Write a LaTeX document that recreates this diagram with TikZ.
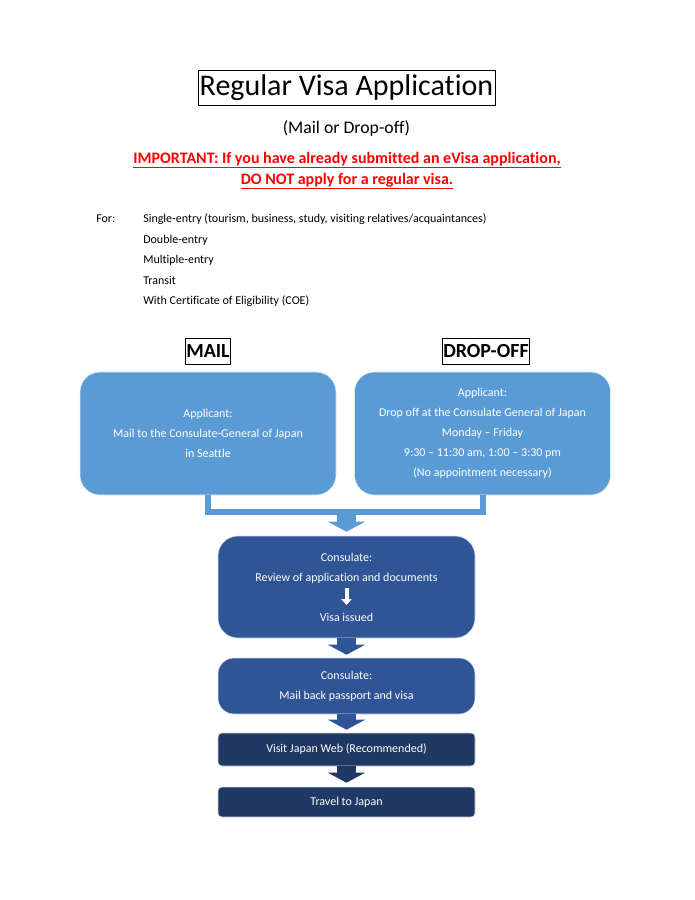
\documentclass[tikz,border=0pt]{standalone}
\usepackage{fontspec}
\setmainfont{Carlito}[Ligatures=NoCommon]
\usepackage{tikz}
\usetikzlibrary{arrows.meta, positioning, calc}
\definecolor{vlight}{HTML}{5B9BD5}
\definecolor{vmid}{HTML}{2F5597}
\definecolor{vdark}{HTML}{203864}
\definecolor{vred}{HTML}{FF0000}
\tikzset{
  apply/.style={rectangle, rounded corners=15pt, fill=vlight, draw=white!80!vlight,
    text=white, align=center, font=\fontsize{9}{15}\selectfont,
    minimum width=192pt, minimum height=92.25pt},
  cons/.style={rectangle, rounded corners=12pt, fill=vmid, draw=white!80!vmid,
    text=white, align=center, font=\fontsize{9}{15}\selectfont, minimum width=192.75pt},
  final/.style={rectangle, rounded corners=3pt, fill=vdark, draw=white!80!vdark,
    text=white, align=center, font=\fontsize{9}{15}\selectfont, minimum width=192.75pt},
  tag/.style={draw, line width=0.5pt, font=\fontsize{15}{17}\selectfont\bfseries,
    inner sep=0.8pt, minimum height=19.5pt},
  listitem/.style={anchor=base west, inner sep=0pt, font=\fontsize{9}{11}\selectfont},
  warn/.style={anchor=base, inner sep=0pt, text=vred, font=\fontsize{12}{14}\selectfont\bfseries},
  bar/.style={line width=4.5pt, vlight},
  bigar/.style={line width=14.25pt, -{Triangle[width=27.75pt, length=7.5pt, line width=0pt]}},
  smallar/.style={line width=3pt, white, -{Triangle[width=8pt, length=4.5pt, line width=0pt]}},
}
\begin{document}
\begin{tikzpicture}[x=0.75pt, y=-0.75pt]
  \useasboundingbox (0,0) rectangle (694,900);

  \node[draw, line width=0.6pt, minimum width=222.75pt, minimum height=26.25pt,
        inner sep=1pt, font=\fontsize{22.5}{26}\selectfont] (title) at (346.5,87.5) {Regular Visa Application};
  \node[anchor=base, inner sep=0pt, font=\fontsize{13.3}{15}\selectfont] (sub) at (346.5,133) {(Mail or Drop-off)};
  \node[warn] (warn1) at (347,163) {\underline{IMPORTANT: If you have already submitted an eVisa application,}};
  \node[warn] (warn2) at (347,184) {\underline{DO NOT apply for a regular visa.}};

  \node[listitem] (for) at (96,222) {For:};
  \node[listitem] (single) at (143,222) {Single-entry (tourism, business, study, visiting relatives/acquaintances)};
  \node[listitem] (double) at (143,243) {Double-entry};
  \node[listitem] (multi) at (143,263) {Multiple-entry};
  \node[listitem] (transit) at (143,284) {Transit};
  \node[listitem] (coe) at (143,304) {With Certificate of Eligibility (COE)};

  \node[tag] (maillbl) at (208,351) {MAIL};
  \node[tag] (droplbl) at (486,351) {DROP-OFF};

  \node[apply] (mail) at (208,433.5) {Applicant:\\Mail to the Consulate-General of Japan\\in Seattle};
  \node[apply] (drop) at (482.5,433.5) {Applicant:\\Drop off at the Consulate General of Japan\\Monday -- Friday\\9:30 -- 11:30 am, 1:00 -- 3:30 pm\\(No appointment necessary)};

  \node[cons, rounded corners=15pt, minimum height=76.5pt] (cons1) at (346.5,587)
    {Consulate:\\Review of application and documents\\[15pt]Visa issued};
  \node[cons, minimum height=42pt] (cons2) at (346.5,686) {Consulate:\\Mail back passport and visa};
  \node[final, minimum height=24.75pt] (vjw) at (346.5,749.5) {Visit Japan Web (Recommended)};
  \node[final, minimum height=22.5pt] (travel) at (346.5,802) {Travel to Japan};

  \coordinate (join) at (346.5,511.7);
  \draw[bar] (mail.south) |- (join) -| (drop.south);
  \draw[bigar, vlight] (join) -- ($(cons1.north)+(0,-4)$);

  \coordinate (rv) at ($(cons1.center)+(0,1)$);
  \coordinate (vi) at ($(cons1.center)+(0,18)$);
  \draw[smallar] (rv) -- (vi);

  \draw[bigar, vmid] (cons1.south) -- ($(cons2.north)+(0,-3)$);
  \draw[bigar, vmid] (cons2.south) -- ($(vjw.north)+(0,-3)$);
  \draw[bigar, vdark] (vjw.south) -- ($(travel.north)+(0,-4)$);
\end{tikzpicture}
\end{document}
